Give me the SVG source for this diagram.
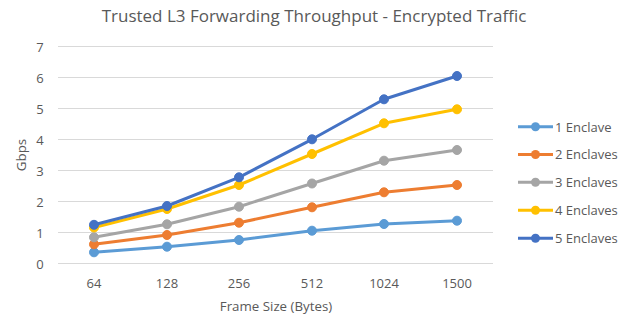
<svg xmlns="http://www.w3.org/2000/svg" width="633" height="322" viewBox="0 0 633 322">
<style>
text{font-family:"Open Sans","Liberation Sans",sans-serif;fill:#595959}
.t{font-size:17px}
.tk{font-size:13px}
.ax{font-size:13.3px}
.lg{font-size:13px}
.grid line{stroke:#D9D9D9;stroke-width:1}
.s{fill:none;stroke-width:3;stroke-linejoin:round;stroke-linecap:round}
</style>
<rect width="633" height="322" fill="#fff"/>
<text class="t" x="314" y="22" text-anchor="middle">Trusted L3 Forwarding Throughput - Encrypted Traffic</text>
<g class="grid">
<line x1="58" y1="46.5" x2="493" y2="46.5"/>
<line x1="58" y1="77.5" x2="493" y2="77.5"/>
<line x1="58" y1="108.5" x2="493" y2="108.5"/>
<line x1="58" y1="139.5" x2="493" y2="139.5"/>
<line x1="58" y1="170.5" x2="493" y2="170.5"/>
<line x1="58" y1="201.5" x2="493" y2="201.5"/>
<line x1="58" y1="232.5" x2="493" y2="232.5"/>
<line x1="58" y1="263.5" x2="493" y2="263.5"/>
</g>
<g class="tk" text-anchor="middle">
<text x="40" y="51.5">7</text>
<text x="40" y="82.5">6</text>
<text x="40" y="113.5">5</text>
<text x="40" y="144.5">4</text>
<text x="40" y="175.5">3</text>
<text x="40" y="206.5">2</text>
<text x="40" y="237.5">1</text>
<text x="40" y="268.5">0</text>
<text x="94" y="287.5">64</text>
<text x="167" y="287.5">128</text>
<text x="239" y="287.5">256</text>
<text x="312" y="287.5">512</text>
<text x="384" y="287.5">1024</text>
<text x="457" y="287.5">1500</text>
</g>
<text class="ax" x="276" y="311" text-anchor="middle">Frame Size (Bytes)</text>
<text class="ax" transform="translate(26,155) rotate(-90)" text-anchor="middle">Gbps</text>
<g id="connectors">
<g id="s1" stroke="#5B9BD5" fill="#5B9BD5">
<polyline class="s" points="94,252.3 167,246.7 239,240 312,230.7 384,224 457,220.7"/>
<circle cx="94" cy="252.3" r="4.5"/><circle cx="167" cy="246.7" r="4.5"/><circle cx="239" cy="240" r="4.5"/><circle cx="312" cy="230.7" r="4.5"/><circle cx="384" cy="224" r="4.5"/><circle cx="457" cy="220.7" r="4.5"/>
</g>
<g id="s2" stroke="#ED7D31" fill="#ED7D31">
<polyline class="s" points="94,244.3 167,235 239,222.7 312,207.3 384,192.3 457,185"/>
<circle cx="94" cy="244.3" r="4.5"/><circle cx="167" cy="235" r="4.5"/><circle cx="239" cy="222.7" r="4.5"/><circle cx="312" cy="207.3" r="4.5"/><circle cx="384" cy="192.3" r="4.5"/><circle cx="457" cy="185" r="4.5"/>
</g>
<g id="s3" stroke="#A5A5A5" fill="#A5A5A5">
<polyline class="s" points="94,237.3 167,224.3 239,206.7 312,183.5 384,160.7 457,150"/>
<circle cx="94" cy="237.3" r="4.5"/><circle cx="167" cy="224.3" r="4.5"/><circle cx="239" cy="206.7" r="4.5"/><circle cx="312" cy="183.5" r="4.5"/><circle cx="384" cy="160.7" r="4.5"/><circle cx="457" cy="150" r="4.5"/>
</g>
<g id="s4" stroke="#FFC000" fill="#FFC000">
<polyline class="s" points="94,227.5 167,209 239,185 312,154 384,123.3 457,109.3"/>
<circle cx="94" cy="227.5" r="4.5"/><circle cx="167" cy="209" r="4.5"/><circle cx="239" cy="185" r="4.5"/><circle cx="312" cy="154" r="4.5"/><circle cx="384" cy="123.3" r="4.5"/><circle cx="457" cy="109.3" r="4.5"/>
</g>
<g id="s5" stroke="#4472C4" fill="#4472C4">
<polyline class="s" points="94,224.8 167,206 239,177.3 312,139.3 384,99.3 457,76"/>
<circle cx="94" cy="224.8" r="4.5"/><circle cx="167" cy="206" r="4.5"/><circle cx="239" cy="177.3" r="4.5"/><circle cx="312" cy="139.3" r="4.5"/><circle cx="384" cy="99.3" r="4.5"/><circle cx="457" cy="76" r="4.5"/>
</g>
</g>
<g id="legend">
<g id="lg1"><line x1="518" y1="126.7" x2="553" y2="126.7" stroke="#5B9BD5" stroke-width="3"/><circle cx="535.5" cy="126.7" r="4.5" fill="#5B9BD5"/><text class="lg" x="555" y="131.5">1 Enclave</text></g>
<g id="lg2"><line x1="518" y1="154.5" x2="553" y2="154.5" stroke="#ED7D31" stroke-width="3"/><circle cx="535.5" cy="154.5" r="4.5" fill="#ED7D31"/><text class="lg" x="555" y="159.3">2 Enclaves</text></g>
<g id="lg3"><line x1="518" y1="182.3" x2="553" y2="182.3" stroke="#A5A5A5" stroke-width="3"/><circle cx="535.5" cy="182.3" r="4.5" fill="#A5A5A5"/><text class="lg" x="555" y="187">3 Enclaves</text></g>
<g id="lg4"><line x1="518" y1="210.2" x2="553" y2="210.2" stroke="#FFC000" stroke-width="3"/><circle cx="535.5" cy="210.2" r="4.5" fill="#FFC000"/><text class="lg" x="555" y="215">4 Enclaves</text></g>
<g id="lg5"><line x1="518" y1="238.3" x2="553" y2="238.3" stroke="#4472C4" stroke-width="3"/><circle cx="535.5" cy="238.3" r="4.5" fill="#4472C4"/><text class="lg" x="555" y="243">5 Enclaves</text></g>
</g>
</svg>
